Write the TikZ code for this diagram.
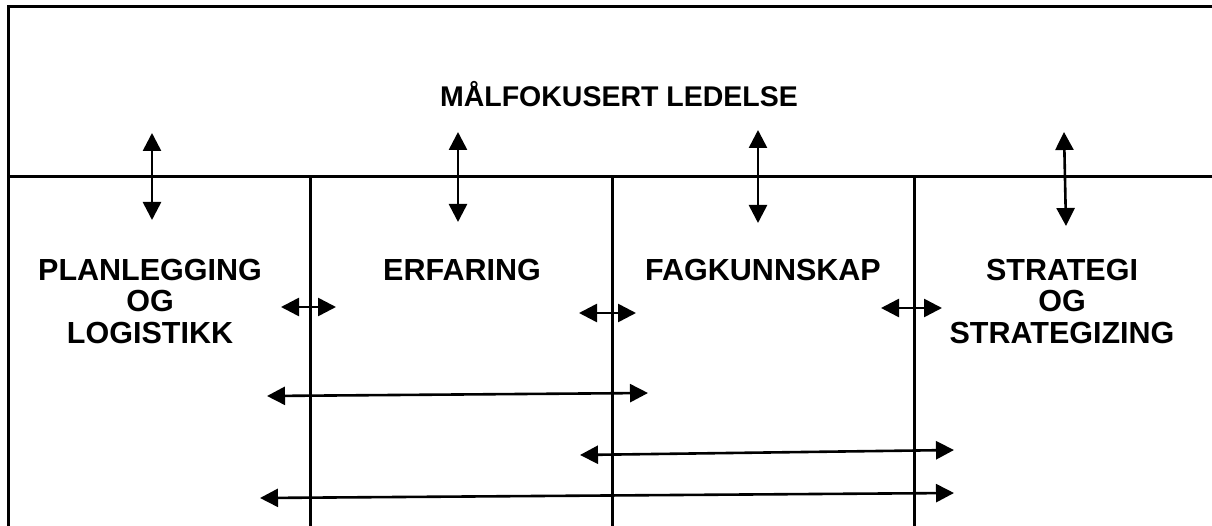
\documentclass[tikz,border=0pt]{standalone}
\usepackage{fontspec}
\setmainfont{Liberation Sans}
\usetikzlibrary{arrows.meta}
\begin{document}
\begin{tikzpicture}[x=1pt,y=-1pt,
  frame/.style={line width=3pt},
  link/.style={line width=2.6pt,{Triangle[length=18pt,width=18pt]}-{Triangle[length=18pt,width=18pt]}},
  lbl/.style={font=\fontsize{30.5}{31.5}\selectfont\bfseries,inner sep=0pt,align=center}]
\useasboundingbox (0,0) rectangle (1212,526);
% frame and columns
\draw[frame] (1230,7) -- (8,7) -- (8,540);
\draw[frame] (8,177) -- (1230,177);
\foreach \xx in {310,612,914} \draw[frame] (\xx,177) -- (\xx,540);
% headings
\node[lbl,font=\fontsize{28.5}{31.5}\selectfont\bfseries,anchor=base] (head) at (619,107) {MÅLFOKUSERT LEDELSE};
\node[lbl,anchor=north] (plan) at (150,259) {PLANLEGGING\\OG\\LOGISTIKK};
\node[lbl,anchor=north] (erf) at (462,259) {ERFARING};
\node[lbl,anchor=north] (fag) at (763,259) {FAGKUNNSKAP};
\node[lbl,anchor=north] (strat) at (1062,259) {STRATEGI\\OG\\STRATEGIZING};
% arrow end points
\coordinate (v1a) at (152,133); \coordinate (v1b) at (152,220);
\coordinate (v2a) at (458,132); \coordinate (v2b) at (458,222);
\coordinate (v3a) at (758,130); \coordinate (v3b) at (758,223);
\coordinate (v4a) at (1064,132); \coordinate (v4b) at (1066,226);
\coordinate (h1a) at (281,307); \coordinate (h1b) at (336,307);
\coordinate (h2a) at (579,313); \coordinate (h2b) at (636,313);
\coordinate (h3a) at (881,308); \coordinate (h3b) at (942,308);
\coordinate (l1a) at (267,396); \coordinate (l1b) at (648,393);
\coordinate (l2a) at (580,455); \coordinate (l2b) at (954,450);
\coordinate (l3a) at (260,498); \coordinate (l3b) at (954,493);
% arrows
\draw[link] (v1a) -- (v1b);
\draw[link] (v2a) -- (v2b);
\draw[link] (v3a) -- (v3b);
\draw[link] (v4a) -- (v4b);
\draw[link] (h1a) -- (h1b);
\draw[link] (h2a) -- (h2b);
\draw[link] (h3a) -- (h3b);
\draw[link] (l1a) -- (l1b);
\draw[link] (l2a) -- (l2b);
\draw[link] (l3a) -- (l3b);
\end{tikzpicture}
\end{document}
